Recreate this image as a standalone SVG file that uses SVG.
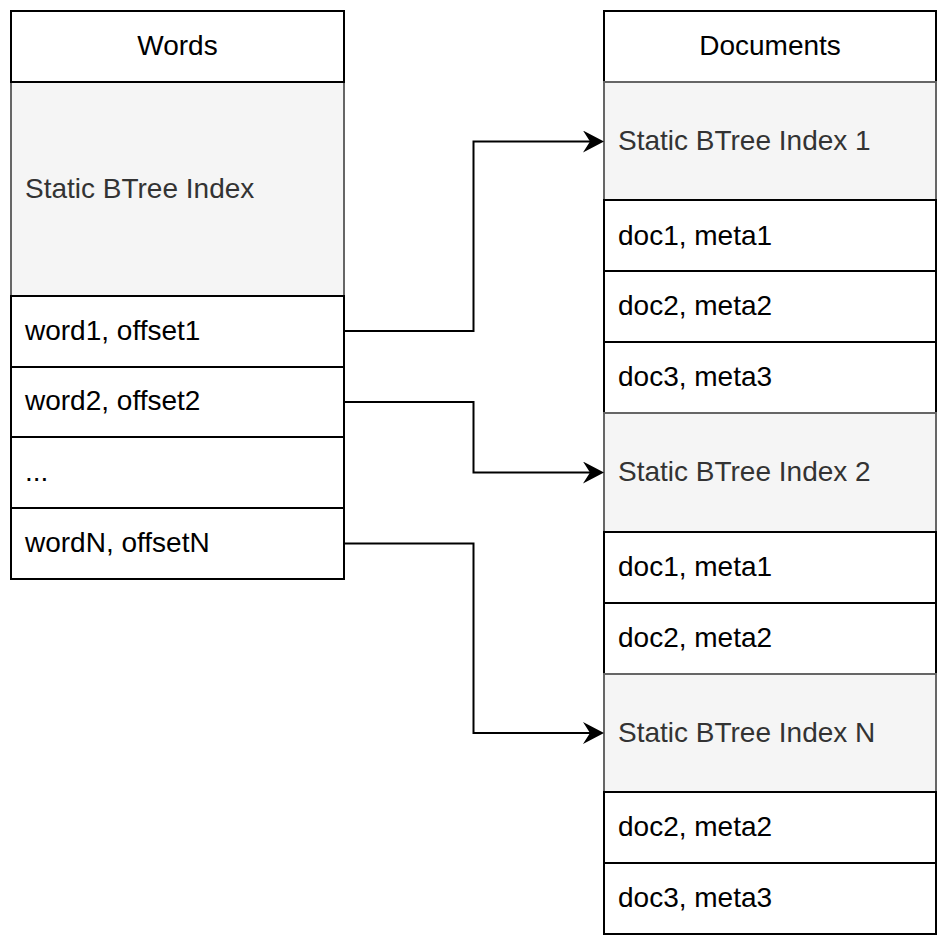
<svg xmlns="http://www.w3.org/2000/svg" width="939" height="940" viewBox="0 0 939 940">
<style>
.w{fill:#ffffff;stroke:#000000;stroke-width:2}
.g{fill:#f5f5f5;stroke:#666666;stroke-width:2}
text{font-family:"Liberation Sans",Arial,sans-serif;font-size:28px;fill:#000000}
.gt{fill:#333333}
.c{text-anchor:middle}
.e{fill:none;stroke:#000000;stroke-width:2}
</style>
<defs>
<marker id="arr" viewBox="0 0 21 22" refX="14" refY="11" markerWidth="21" markerHeight="22" markerUnits="userSpaceOnUse" orient="auto">
<path d="M0,0 L21,11 L0,22 L7,11 Z" fill="#000000"/>
</marker>
</defs>
<rect width="939" height="940" fill="#ffffff"/>
<g id="words">
<rect class="g" x="11" y="82" width="333" height="214"/>
<rect class="w" x="11" y="11" width="333" height="71"/>
<text class="c" x="177.5" y="54.5">Words</text>
<text class="gt" x="25" y="197.5">Static BTree Index</text>
<rect class="w" x="11" y="296" width="333" height="71"/>
<text x="25" y="339.5">word1, offset1</text>
<rect class="w" x="11" y="367" width="333" height="70"/>
<text x="25" y="409.5">word2, offset2</text>
<rect class="w" x="11" y="437" width="333" height="71"/>
<text x="25" y="480.5">...</text>
<rect class="w" x="11" y="508" width="333" height="71"/>
<text x="25" y="551.5">wordN, offsetN</text>
</g>
<g id="documents">
<rect class="w" x="604" y="11" width="332" height="71"/>
<text class="c" x="770" y="54.5">Documents</text>
<rect class="g" x="604" y="82" width="332" height="118"/>
<text class="gt" x="618" y="149.5">Static BTree Index 1</text>
<rect class="w" x="604" y="200" width="332" height="71"/>
<text x="618" y="244.5">doc1, meta1</text>
<rect class="w" x="604" y="271" width="332" height="71"/>
<text x="618" y="315">doc2, meta2</text>
<rect class="w" x="604" y="342" width="332" height="71"/>
<text x="618" y="386">doc3, meta3</text>
<rect class="g" x="604" y="413" width="332" height="119"/>
<text class="gt" x="618" y="481">Static BTree Index 2</text>
<rect class="w" x="604" y="532" width="332" height="71"/>
<text x="618" y="576">doc1, meta1</text>
<rect class="w" x="604" y="603" width="332" height="71"/>
<text x="618" y="647">doc2, meta2</text>
<rect class="g" x="604" y="674" width="332" height="118"/>
<text class="gt" x="618" y="741.5">Static BTree Index N</text>
<rect class="w" x="604" y="792" width="332" height="71"/>
<text x="618" y="836">doc2, meta2</text>
<rect class="w" x="604" y="863" width="332" height="71"/>
<text x="618" y="907">doc3, meta3</text>
</g>
<g id="connectors">
<path class="e" d="M344,331 H473.5 V141.5 H597" marker-end="url(#arr)"/>
<path class="e" d="M344,402 H473.5 V472.5 H597" marker-end="url(#arr)"/>
<path class="e" d="M344,543.5 H473.5 V733 H597" marker-end="url(#arr)"/>
</g>
</svg>
